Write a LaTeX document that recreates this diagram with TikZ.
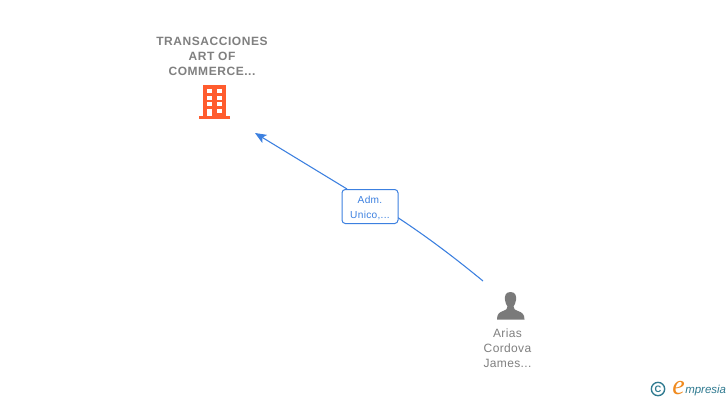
\documentclass[tikz,border=0pt]{standalone}
\usepackage{fontspec}
\setmainfont{Liberation Sans}
\newfontfamily\lsfont[LetterSpace=4.6]{Liberation Sans}
\newfontfamily\lsthin[LetterSpace=3]{Liberation Sans}
\newfontfamily\logofont{Liberation Serif}
\usetikzlibrary{arrows.meta}
\definecolor{txtgray}{HTML}{808080}
\definecolor{iconorange}{HTML}{FF5C2E}
\definecolor{icongray}{HTML}{7A7A7A}
\definecolor{linkblue}{HTML}{3C80E0}
\definecolor{logoteal}{HTML}{2F7A90}
\definecolor{logoorange}{HTML}{F08A1E}
\tikzset{
  title/.style={align=center,text=txtgray,font=\fontsize{9}{11.25}\selectfont\lsfont\bfseries,inner sep=0pt},
  persontext/.style={align=center,text=txtgray,font=\fontsize{9}{11.25}\selectfont\lsthin,inner sep=0pt},
  linkbox/.style={draw=linkblue,line width=0.75pt,rounded corners=2.5pt,fill=white,minimum width=42pt,minimum height=25.5pt,inner sep=0pt,align=center,text=linkblue},
  linktext/.style={inner sep=0pt,align=center,text=linkblue,font=\fontsize{7.6}{11.25}\selectfont\lsthin},
  link/.style={draw=linkblue,line width=0.8pt},
  win/.style={fill=white,draw=none}
}
\begin{document}
\begin{tikzpicture}[x=0.75pt,y=-0.75pt]
\useasboundingbox (0,0) rectangle (728,400);
\fill[white] (0,0) rectangle (728,400);
\coordinate (buildtip) at (255,133);
\coordinate (personend) at (483,281);
\coordinate (lblin) at (390,212.5);
\coordinate (lblout) at (347,189);
\node[title] (company) at (212,56) {TRANSACCIONES\\ART OF\\COMMERCE...};
\node[persontext] (person) at (507.5,348) {Arias\\Cordova\\James...};
% connector
\draw[link] (personend) .. controls (455,258) and (425,235) .. (lblin);
\draw[link,-{Stealth[length=8.5pt,width=7pt,inset=2pt]}] (lblout) -- (buildtip);
\node[linkbox] (lbl) at (370,206.5) {};
\node[linktext] (lbltext) at (370,207.8) {Adm.\\Unico,...};
% building icon
\fill[iconorange] (203,85) rectangle (226,116);
\fill[iconorange] (199,115.5) rectangle (230,119);
\foreach \y in {89,95.5,102}{
  \fill[win] (207.3,\y) rectangle (212.3,\y+4.4);
  \fill[win] (216.5,\y) rectangle (221.5,\y+4.4);
}
\fill[win] (207.3,108.5) rectangle (212.3,116);
\fill[win] (216.5,108.5) rectangle (221.5,113);
% person icon
\fill[icongray] (510.5,292) .. controls (505.5,292) and (504.5,296) .. (505,300)
  .. controls (505.3,303) and (506.5,305) .. (507.5,306.5)
  .. controls (507.5,309) and (506,310) .. (503,311)
  .. controls (499,312.5) and (497,314) .. (497,319.5)
  -- (524.5,319.5)
  .. controls (524.5,314) and (522,312.5) .. (518,311)
  .. controls (515,310) and (513.5,309) .. (513.5,306.5)
  .. controls (514.5,305) and (515.7,303) .. (516,300)
  .. controls (516.5,296) and (515.5,292) .. (510.5,292) -- cycle;
% logo
\node[draw=logoteal,line width=1pt,circle,minimum size=10pt,inner sep=0pt,text=logoteal,font=\fontsize{7}{7}\selectfont\bfseries] (copy) at (658,389) {C};
\node[inner sep=0pt,anchor=base west,text=logoorange,font=\fontsize{21}{21}\selectfont\logofont\itshape] (elogo) at (672,394) {e};
\node[inner sep=0pt,anchor=base west,text=logoteal,font=\fontsize{8.6}{10}\selectfont\itshape] (mpresia) at (685,393) {mpresia};
\end{tikzpicture}
\end{document}
